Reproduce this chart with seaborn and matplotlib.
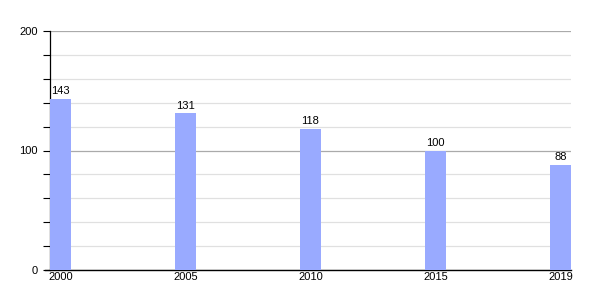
import matplotlib
matplotlib.use("Agg")
import matplotlib.pyplot as plt
from matplotlib.ticker import MultipleLocator
import seaborn as sns
import pandas as pd

years = ["2000", "2005", "2010", "2015", "2019"]
values = [143, 131, 118, 100, 88]

sns.set_theme(style="white")
plt.rcParams['font.family'] = ['Liberation Sans', 'DejaVu Sans']
plt.rcParams['text.color'] = 'black'
plt.rcParams['xtick.color'] = 'black'
plt.rcParams['ytick.color'] = 'black'

df = pd.DataFrame({"year": years, "value": values})

fig = plt.figure(figsize=(6, 3), dpi=100)
ax = fig.add_axes([50/600, 30/300, 521/600, 239/300])

bw = 0.168
sns.barplot(data=df, x="year", y="value", color="#99aaff", width=bw,
            saturation=1, linewidth=0, edgecolor="none", ax=ax, zorder=3)

x0, x1 = -bw/2, len(years) - 1 + bw/2
ax.set_xlim(x0, x1)
ax.set_ylim(0, 200)
ax.yaxis.set_major_locator(MultipleLocator(100))
ax.yaxis.set_minor_locator(MultipleLocator(20))
ax.grid(True, which="major", axis="y", color="#aaaaaa", linewidth=0.9, zorder=0)
ax.grid(True, which="minor", axis="y", color="#e0e0e0", linewidth=0.9, zorder=0)
ax.set_axisbelow(True)

for s in ["top", "right"]:
    ax.spines[s].set_visible(False)
ax.spines["left"].set_color("black")
ax.spines["left"].set_linewidth(0.9)
ax.spines["bottom"].set_color("black")
ax.spines["bottom"].set_linewidth(1.0)
ax.spines["bottom"].set_bounds(x0 - 0.04, x1)

ax.tick_params(axis="y", which="both", left=True, length=5, width=0.8,
               color="black", labelsize=8, pad=4, labelcolor="black")
ax.tick_params(axis="x", which="both", bottom=False, length=0, labelsize=8,
               pad=1.5, labelcolor="black")
ax.set_xlabel("")
ax.set_ylabel("")

for c in ax.containers:
    ax.bar_label(c, labels=[str(v) for v in values], padding=2, fontsize=8,
                 color="black")

fig.savefig("out.png", dpi=100)
